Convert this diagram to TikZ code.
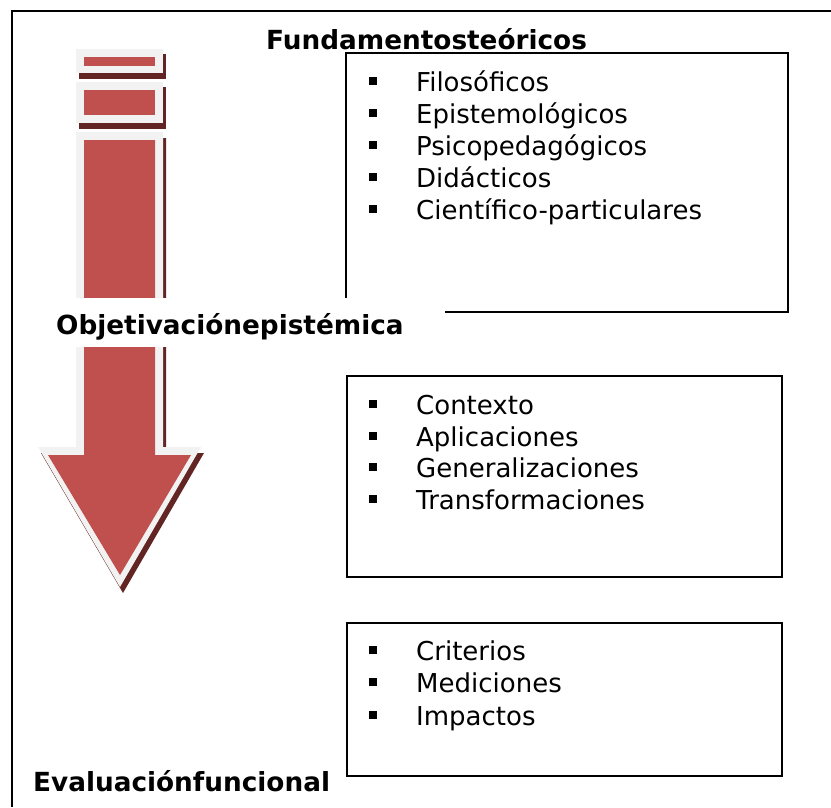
\documentclass[tikz,border=0pt]{standalone}
\usepackage{fontspec}
\setmainfont{DejaVu Sans}
\definecolor{arrred}{HTML}{C0504D}
\definecolor{arrlight}{HTML}{F2F2F2}
\definecolor{arrshadow}{HTML}{632523}
\tikzset{
  itemtext/.style={anchor=base west, inner sep=0pt, font=\fontsize{26}{30}\selectfont},
  titletext/.style={anchor=base west, inner sep=0pt, font=\fontsize{26.3}{30}\selectfont\bfseries},
  boxline/.style={draw=black, line width=2pt},
  frameline/.style={draw=black, line width=2pt}
}
\begin{document}
\begin{tikzpicture}[x=1pt,y=-1pt]
\useasboundingbox (0,0) rectangle (831,807);
\fill[white] (0,0) rectangle (831,807);
% outer frame
\draw[frameline] (11.8,807) -- (11.8,10.8) -- (831,10.8);
% arrow: stripes
\fill[arrshadow] (79,54) rectangle (166,79);
\fill[arrlight] (76,49) rectangle (163,73);
\fill[arrred] (84,57) rectangle (155,66);
\fill[arrshadow] (79,87) rectangle (166,129);
\fill[arrlight] (76,82) rectangle (163,123);
\fill[arrred] (84,90) rectangle (155,115);
% arrow body
\fill[arrshadow, shift={(3,6)}] (76,132) -- (163,132) -- (163,447) -- (201,447) -- (120,587) -- (38,447) -- (76,447) -- cycle;
\fill[arrlight] (76,132) -- (163,132) -- (163,447) -- (201,447) -- (120,587) -- (38,447) -- (76,447) -- cycle;
\fill[arrred] (84,140) -- (155,140) -- (155,455) -- (191,455) -- (120,575) -- (48,455) -- (84,455) -- cycle;
% boxes
\draw[boxline] (346,53) rectangle (788,312);
\draw[boxline] (347,376) rectangle (782,577);
\draw[boxline] (347,623) rectangle (782,776);
% label mask
\fill[white] (50,297.5) rectangle (445,347);
% titles
\node[titletext] (fund) at (266,49) {Fundamentosteóricos};
\node[titletext] (obj) at (56,334) {Objetivaciónepistémica};
\node[titletext] (eval) at (33,791) {Evaluaciónfuncional};
% items
\foreach \y/\t [count=\i] in {91/Filosóficos,123/Epistemológicos,155/Psicopedagógicos,187/Didácticos,219/Científico-particulares,414/Contexto,446/Aplicaciones,477/Generalizaciones,509/Transformaciones,660/Criterios,692/Mediciones,725/Impactos}{
  \fill[black] (369,\y-14) rectangle (377,\y-6);
  \node[itemtext] (item\i) at (416,\y) {\t};
}
\end{tikzpicture}
\end{document}
